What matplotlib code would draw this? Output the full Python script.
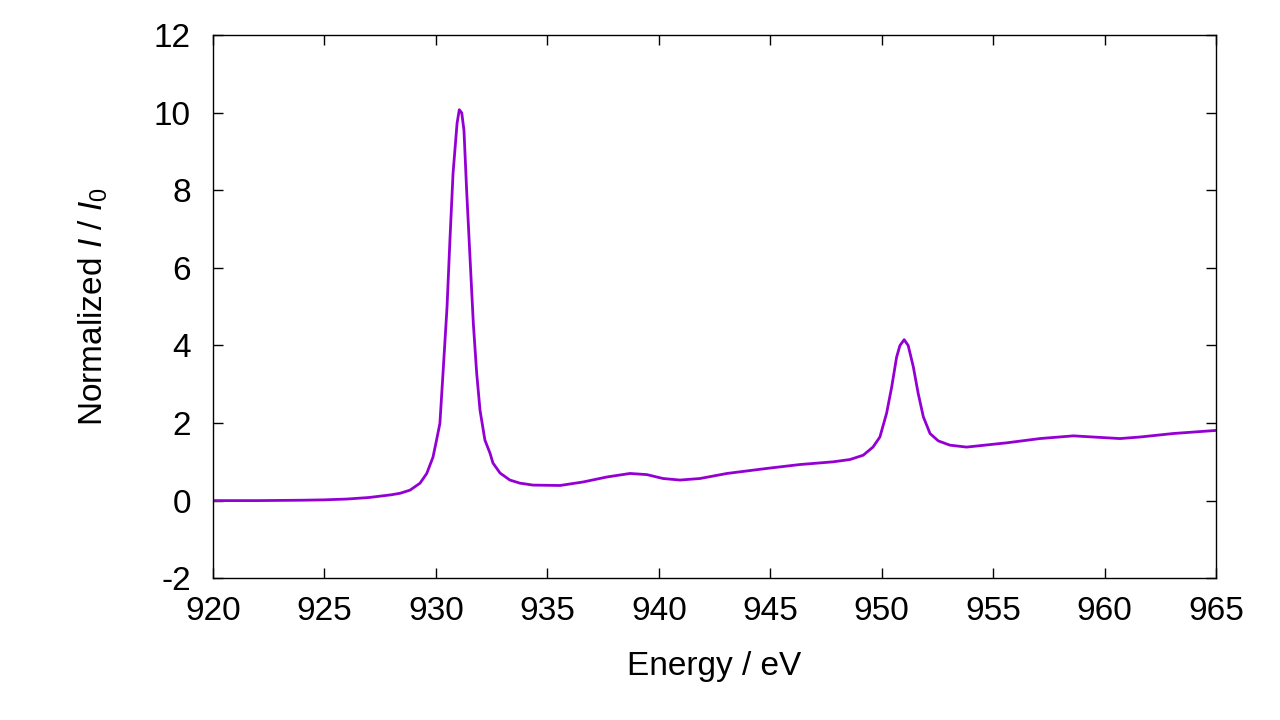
import matplotlib
matplotlib.use("Agg")
import matplotlib.pyplot as plt

plt.rcParams['font.family'] = ['Liberation Sans', 'DejaVu Sans']
plt.rcParams['mathtext.fontset'] = 'custom'
plt.rcParams['mathtext.rm'] = 'Liberation Sans'
plt.rcParams['mathtext.it'] = 'Liberation Sans:italic'
plt.rcParams['axes.unicode_minus'] = False

# espectro
energia = [920, 922, 924, 925, 926, 927, 928, 928.4, 928.84, 929.29, 929.59, 929.87,
           930.03, 930.18, 930.32, 930.5, 930.63, 930.77, 930.95, 931.05, 931.16,
           931.26, 931.38, 931.53, 931.68, 931.83, 931.98, 932.2, 932.43, 932.56,
           932.88, 933.32, 933.77, 934.36, 935.57, 936.6, 937.68, 938.71, 939.47,
           940.19, 940.95, 941.85, 943.06, 944.85, 946.33, 947.82, 948.58, 949.17,
           949.61, 949.92, 950.22, 950.45, 950.67, 950.82, 951.01, 951.19, 951.42,
           951.64, 951.87, 952.17, 952.54, 953.06, 953.81, 955.61, 957.1, 958.6,
           959.49, 960.69, 961.59, 963.08, 965]
intensidad = [0.0, 0.0, 0.01, 0.02, 0.04, 0.08, 0.15, 0.19, 0.27, 0.45, 0.70, 1.12,
              1.56, 1.99, 3.29, 4.99, 6.72, 8.44, 9.73, 10.08, 10.0,
              9.55, 8.0, 6.28, 4.57, 3.29, 2.33, 1.56, 1.22, 0.97,
              0.71, 0.53, 0.45, 0.40, 0.39, 0.48, 0.61, 0.70, 0.67,
              0.57, 0.53, 0.57, 0.70, 0.83, 0.93, 1.0, 1.06, 1.17,
              1.38, 1.64, 2.25, 2.93, 3.70, 4.0, 4.15, 4.0, 3.45,
              2.76, 2.16, 1.73, 1.54, 1.43, 1.38, 1.49, 1.60, 1.67,
              1.64, 1.60, 1.64, 1.73, 1.81]

fig = plt.figure(figsize=(12.8, 7.2), dpi=100)
ax = fig.add_axes([0.1664, 0.197, 0.7836, 0.754])

ax.plot(energia, intensidad, color='#9400D3', linewidth=2.0)

ax.set_xlim(920, 965)
ax.set_ylim(-2, 12)
ax.set_xticks(range(920, 966, 5))
ax.set_yticks(range(-2, 13, 2))
ax.tick_params(direction='in', top=True, right=True, length=7, width=1,
               labelsize=24)
ax.tick_params(axis='x', pad=13)
ax.tick_params(axis='y', pad=16)
for s in ax.spines.values():
    s.set_linewidth(1)

ax.set_xlabel('Energy / eV', fontsize=24)
ax.set_ylabel(r'Normalized $I$ / $I_0$', fontsize=24)
ax.xaxis.set_label_coords(0.5, -0.134)
ax.yaxis.set_label_coords(-0.103, 0.5)

fig.savefig('out.png', dpi=100)
